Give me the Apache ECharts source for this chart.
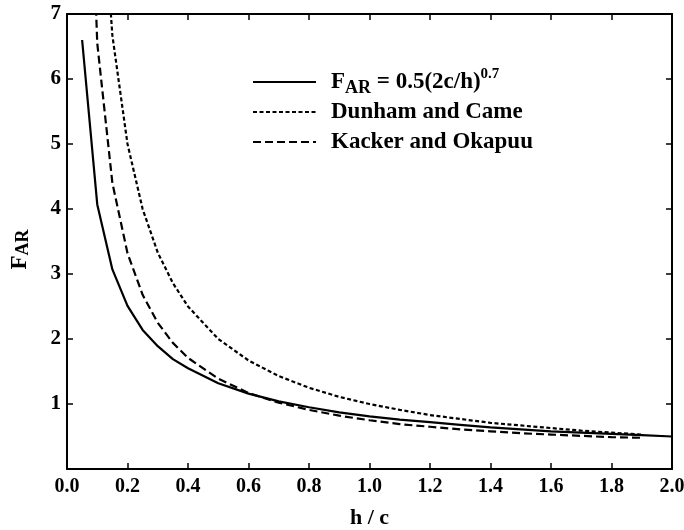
<!DOCTYPE html>
<html>
<head>
<meta charset="utf-8">
<script src="https://cdn.jsdelivr.net/npm/echarts@6/dist/echarts.min.js"></script>
<style>
  html, body { margin: 0; padding: 0; background: #fff; }
  #chart { width: 684px; height: 530px; }
</style>
</head>
<body>
<div id="chart"></div>
<script>
// h/c sample positions for each curve
const hcPower = [0.05, 0.10, 0.15, 0.20, 0.25, 0.30, 0.35, 0.40, 0.50, 0.60, 0.70, 0.80, 0.90, 1.00, 1.10, 1.20, 1.30, 1.40, 1.50, 1.60, 1.70, 1.80, 1.90, 2.00];
const farPower = [6.60, 4.07, 3.07, 2.51, 2.14, 1.89, 1.69, 1.55, 1.32, 1.16, 1.04, 0.95, 0.87, 0.81, 0.76, 0.72, 0.68, 0.64, 0.61, 0.58, 0.56, 0.54, 0.52, 0.50];

const hcDunham = [0.10, 0.15, 0.20, 0.25, 0.30, 0.35, 0.40, 0.50, 0.60, 0.70, 0.80, 0.90, 1.00, 1.10, 1.20, 1.30, 1.40, 1.50, 1.60, 1.70, 1.80, 1.90];
const farDunham = [10.0, 6.67, 5.00, 4.00, 3.33, 2.86, 2.50, 2.00, 1.67, 1.43, 1.25, 1.11, 1.00, 0.91, 0.83, 0.77, 0.71, 0.67, 0.63, 0.59, 0.56, 0.53];

const hcKacker = [0.05, 0.10, 0.15, 0.20, 0.25, 0.30, 0.35, 0.40, 0.50, 0.60, 0.70, 0.80, 0.90, 1.00, 1.10, 1.20, 1.30, 1.40, 1.50, 1.60, 1.70, 1.80, 1.90];
const farKacker = [13.0, 6.55, 4.40, 3.32, 2.68, 2.25, 1.94, 1.71, 1.39, 1.17, 1.02, 0.91, 0.82, 0.75, 0.69, 0.65, 0.61, 0.58, 0.55, 0.53, 0.51, 0.49, 0.48];

const xTicks = { min: 0, max: 2, interval: 0.2 };
const yTicks = { min: 0, max: 7, interval: 1 };

const seriesNames = ['power', 'Dunham and Came', 'Kacker and Okapuu'];

const pair = (xs, ys) => xs.map((x, i) => [x, ys[i]]);

const FONT = '"Liberation Serif", "Times New Roman", serif';
const AXIS_COLOR = '#000';

const chart = echarts.init(document.getElementById('chart'), null, { renderer: 'canvas' });

function frameAxis(extra) {
  return Object.assign({
    type: 'value',
    axisLine: { show: true, onZero: false, lineStyle: { color: AXIS_COLOR, width: 2 } },
    axisTick: { show: true, inside: true, length: 6, lineStyle: { color: AXIS_COLOR, width: 1.5 } },
    splitLine: { show: false }
  }, extra);
}

const lineCommon = {
  type: 'line',
  symbol: 'none',
  smooth: false,
  clip: true,
  animation: false
};

const bold = (size, extra) => Object.assign({ fontFamily: FONT, fontWeight: 'bold', fontSize: size, color: '#000' }, extra || {});

chart.setOption({
  animation: false,
  backgroundColor: '#fff',
  grid: { left: 67, right: 12, top: 14, bottom: 61, containLabel: false, outerBoundsMode: 'none' },
  legend: {
    orient: 'vertical',
    left: 247,
    top: 62,
    itemWidth: 63,
    itemHeight: 14,
    itemGap: 0,
    data: seriesNames,
    itemStyle: { opacity: 0 },
    textStyle: bold(23, {
      lineHeight: 30,
      padding: [0, 0, 0, 10],
      rich: {
        n: bold(23, { lineHeight: 30 }),
        sub: bold(18, { verticalAlign: 'bottom', lineHeight: 22 }),
        sup: bold(15, { verticalAlign: 'top', lineHeight: 2 })
      }
    }),
    formatter: function (name) {
      if (name === 'power') return '{n|F}{sub|AR}{n| = 0.5(2c/h)}{sup|0.7}';
      return '{n|' + name + '}';
    }
  },
  xAxis: [
    frameAxis({
      position: 'bottom',
      min: xTicks.min, max: xTicks.max, interval: xTicks.interval,
      name: 'h / c',
      nameLocation: 'middle',
      nameGap: 38,
      nameTextStyle: bold(22),
      axisLabel: bold(20, { margin: 8, formatter: v => v.toFixed(1) })
    }),
    frameAxis({
      position: 'top',
      min: xTicks.min, max: xTicks.max, interval: xTicks.interval,
      axisLabel: { show: false }
    })
  ],
  yAxis: [
    frameAxis({
      position: 'left',
      min: yTicks.min, max: yTicks.max, interval: yTicks.interval,
      name: '{a|F}{b|AR}',
      nameLocation: 'middle',
      nameRotate: 90,
      nameGap: 35,
      nameTextStyle: {
        padding: [0, 16, 0, 0],
        rich: {
          a: bold(23, { lineHeight: 24 }),
          b: bold(18, { verticalAlign: 'bottom', lineHeight: 18 })
        }
      },
      axisLabel: bold(21, { margin: 6, formatter: v => (v === 0 ? '' : String(v)) })
    }),
    frameAxis({
      position: 'right',
      min: yTicks.min, max: yTicks.max, interval: yTicks.interval,
      axisLabel: { show: false }
    })
  ],
  series: [
    Object.assign({}, lineCommon, {
      name: seriesNames[0],
      data: pair(hcPower, farPower),
      lineStyle: { color: '#000', width: 2.2, type: 'solid' },
      itemStyle: { color: '#000' }
    }),
    Object.assign({}, lineCommon, {
      name: seriesNames[1],
      data: pair(hcDunham, farDunham),
      lineStyle: { color: '#000', width: 2.2, type: [4, 2.5] },
      itemStyle: { color: '#000' }
    }),
    Object.assign({}, lineCommon, {
      name: seriesNames[2],
      data: pair(hcKacker, farKacker),
      lineStyle: { color: '#000', width: 2.2, type: [8, 4] },
      itemStyle: { color: '#000' }
    })
  ]
});
</script>
</body>
</html>
